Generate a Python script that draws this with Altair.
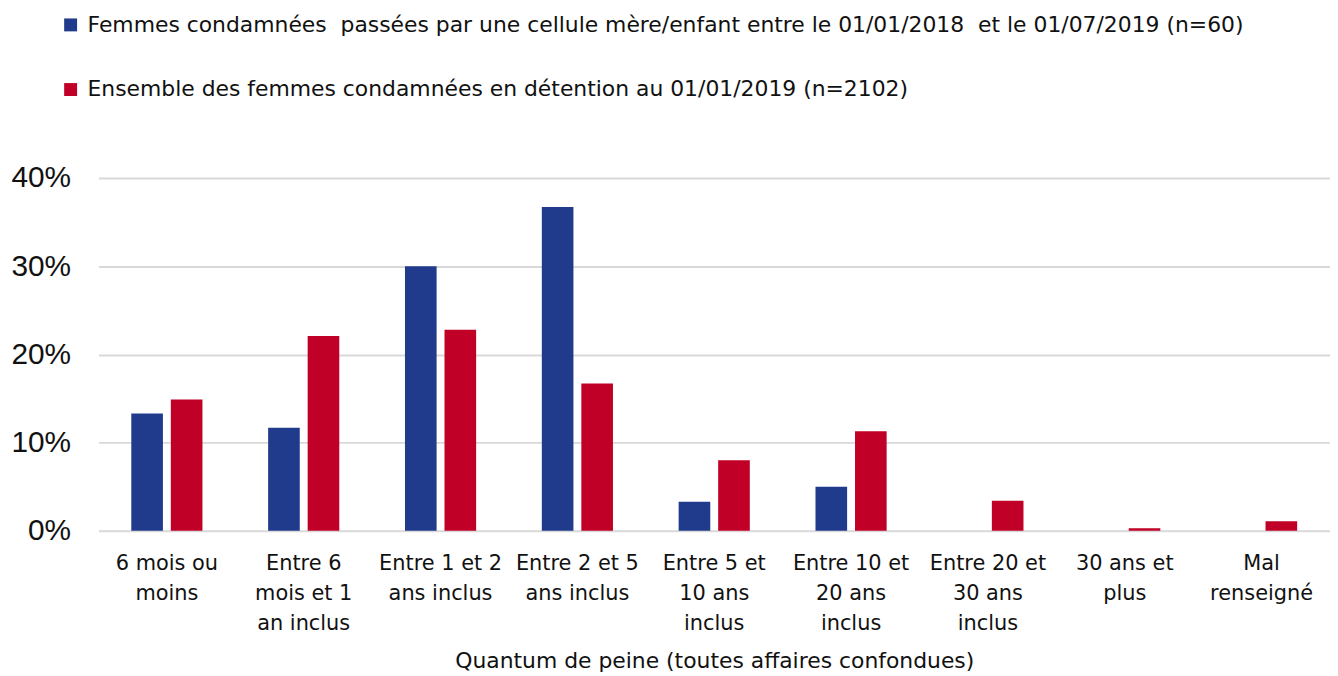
import altair as alt
import pandas as pd

categories = [
    "6 mois ou\nmoins",
    "Entre 6\nmois et 1\nan inclus",
    "Entre 1 et 2\nans inclus",
    "Entre 2 et 5\nans inclus",
    "Entre 5 et\n10 ans\ninclus",
    "Entre 10 et\n20 ans\ninclus",
    "Entre 20 et\n30 ans\ninclus",
    "30 ans et\nplus",
    "Mal\nrenseigné",
]
series = [
    "Femmes condamnées \u00a0passées par une cellule mère/enfant entre le 01/01/2018 \u00a0et le 01/07/2019 (n=60)",
    "Ensemble des femmes condamnées en détention au 01/01/2019 (n=2102)",
]
values_cellule = [0.133, 0.117, 0.300, 0.367, 0.033, 0.050, 0.0, 0.0, 0.0]
values_ensemble = [0.149, 0.221, 0.228, 0.167, 0.080, 0.113, 0.034, 0.003, 0.011]
colors = ["#203A8C", "#C00026"]

rows = []
for i, c in enumerate(categories):
    rows.append({"cat": c, "serie": series[0], "val": values_cellule[i]})
    rows.append({"cat": c, "serie": series[1], "val": values_ensemble[i]})
df = pd.DataFrame(rows)

chart = (
    alt.Chart(df)
    .mark_bar()
    .encode(
        x=alt.X(
            "cat:N",
            sort=categories,
            scale=alt.Scale(paddingInner=0.48, paddingOuter=0.24),
            axis=alt.Axis(
                title="Quantum de peine (toutes affaires confondues)",
                labelAngle=0,
                labelExpr="split(datum.label, '\\n')",
                labelFont="DejaVu Sans",
                labelFontSize=21,
                labelLineHeight=30,
                labelColor="#111111",
                labelPadding=22,
                labelLimit=300,
                ticks=False,
                domain=False,
                titleFont="DejaVu Sans",
                titleFontSize=22,
                titleFontWeight="normal",
                titleColor="#111111",
                titlePadding=17,
            ),
        ),
        xOffset=alt.XOffset(
            "serie:N",
            sort=series,
            scale=alt.Scale(paddingInner=0.2, paddingOuter=0),
        ),
        y=alt.Y(
            "val:Q",
            scale=alt.Scale(domain=[0, 0.4]),
            axis=alt.Axis(
                title=None,
                values=[0, 0.1, 0.2, 0.3, 0.4],
                format=".0%",
                labelFont="Liberation Sans",
                labelFontSize=30,
                labelColor="#111111",
                labelPadding=28,
                ticks=False,
                domain=False,
                grid=True,
                gridColor="#d9d9d9",
                gridWidth=2,
            ),
        ),
        color=alt.Color(
            "serie:N",
            sort=series,
            scale=alt.Scale(domain=series, range=colors),
            legend=alt.Legend(
                title=None,
                orient="none",
                legendX=-39,
                legendY=-165,
                direction="vertical",
                symbolType="square",
                symbolSize=169,
                symbolStrokeWidth=0,
                labelFont="DejaVu Sans",
                labelFontSize=22,
                labelColor="#111111",
                labelLimit=1400,
                labelOffset=6,
                rowPadding=43,
            ),
        ),
    )
    .properties(
        width=1239,
        height=355,
        padding={"left": 2, "top": 4, "right": 0, "bottom": 0},
    )
    .configure_view(stroke=None)
)

chart.save("out.html", embed_options={"renderer": "svg", "actions": False})
